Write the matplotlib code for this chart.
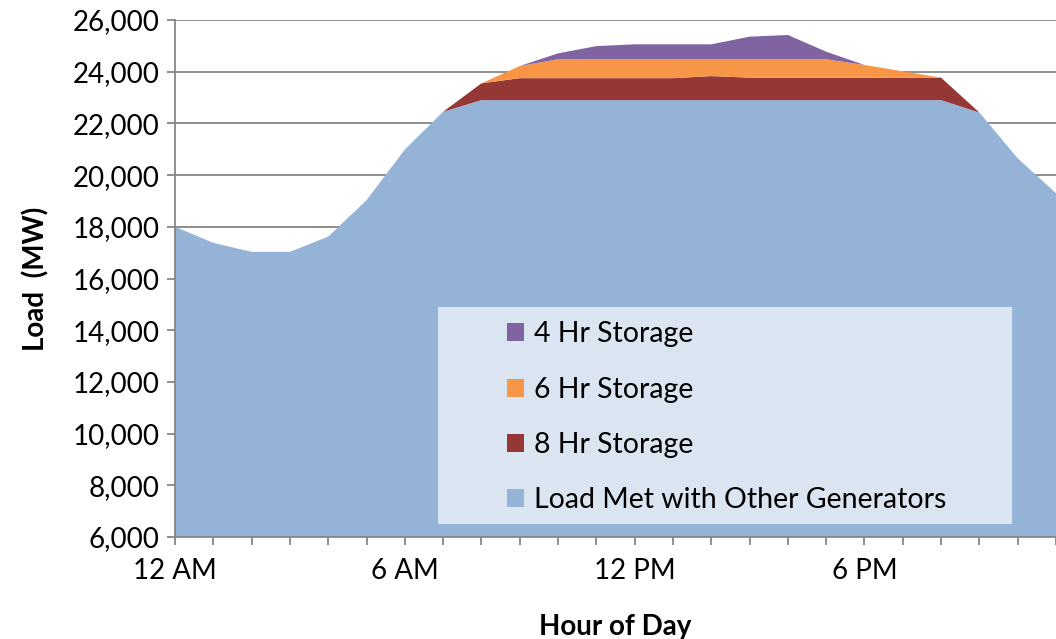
import matplotlib
matplotlib.use('Agg')
import matplotlib.pyplot as plt
from matplotlib.patches import Rectangle
import numpy as np

plt.rcParams['font.family'] = ['Lato', 'DejaVu Sans']

hours = list(range(24))
tick_labels = {0: '12 AM', 6: '6 AM', 12: '12 PM', 18: '6 PM'}

# load met with other generators (MW)
other_gen = [18000, 17380, 17030, 17030, 17620, 19030, 20990, 22450,
             22900, 22900, 22900, 22900, 22900, 22900, 22900, 22900,
             22900, 22900, 22900, 22900, 22900, 22420, 20650, 19300]
# storage layers stacked on top (MW)
stor_8hr = [0, 0, 0, 0, 0, 0, 0, 0,
            650, 850, 850, 850, 850, 850, 930, 870,
            870, 870, 870, 870, 870, 0, 0, 0]
stor_6hr = [0, 0, 0, 0, 0, 0, 0, 0,
            0, 470, 730, 730, 730, 730, 650, 710,
            710, 710, 490, 245, 0, 0, 0, 0]
stor_4hr = [0, 0, 0, 0, 0, 0, 0, 0,
            0, 0, 230, 510, 580, 580, 580, 875,
            940, 295, 0, 0, 0, 0, 0, 0]

labels = ['Load Met with Other Generators', '8 Hr Storage', '6 Hr Storage', '4 Hr Storage']
colors = ['#95B3D7', '#953735', '#F79646', '#8064A2']

fig = plt.figure(figsize=(10.56, 6.39), dpi=100)
ax = fig.add_axes([175/1056, 102/639, 881/1056, 517/639])

ax.stackplot(hours, other_gen, stor_8hr, stor_6hr, stor_4hr,
             colors=colors, labels=labels, linewidth=0, zorder=2)

ax.set_xlim(0, 23)
ax.set_ylim(6000, 26000)
ax.set_yticks(np.arange(6000, 26001, 2000))
ax.yaxis.set_major_formatter(matplotlib.ticker.FuncFormatter(lambda v, p: f'{int(v):,}'))
ax.set_xticks(hours)
ax.set_xticklabels([tick_labels.get(h, '') for h in hours])
ax.grid(axis='y', color='#868686', linewidth=1.3, zorder=0)
ax.set_axisbelow(True)

for s in ['top', 'right']:
    ax.spines[s].set_visible(False)
for s in ['left', 'bottom']:
    ax.spines[s].set_color('#868686')
    ax.spines[s].set_linewidth(1.3)
    ax.spines[s].set_zorder(3)

ax.tick_params(axis='both', colors='#868686', length=6, width=1.3, labelsize=20,
               labelcolor='black')
ax.tick_params(axis='x', pad=9)
ax.tick_params(axis='y', pad=5)

ax.set_xlabel('Hour of Day', fontsize=20, fontweight='bold', labelpad=22)
ax.set_ylabel('Load  (MW)', fontsize=20, fontweight='bold', labelpad=17)

# legend background box
ax.add_patch(Rectangle((0.2985, 0.025), 0.6515, 0.42, transform=ax.transAxes,
                       facecolor='#DBE5F1', edgecolor='none', zorder=4))
handles, labs = ax.get_legend_handles_labels()
leg = ax.legend(handles[::-1], labs[::-1], loc='upper left', bbox_to_anchor=(0.351, 0.461),
                frameon=False, fontsize=20.5, handlelength=0.6, handleheight=0.6,
                handletextpad=0.35, labelspacing=1.03, borderpad=0.3)
leg.set_zorder(5)

plt.savefig('out.png', dpi=100)
